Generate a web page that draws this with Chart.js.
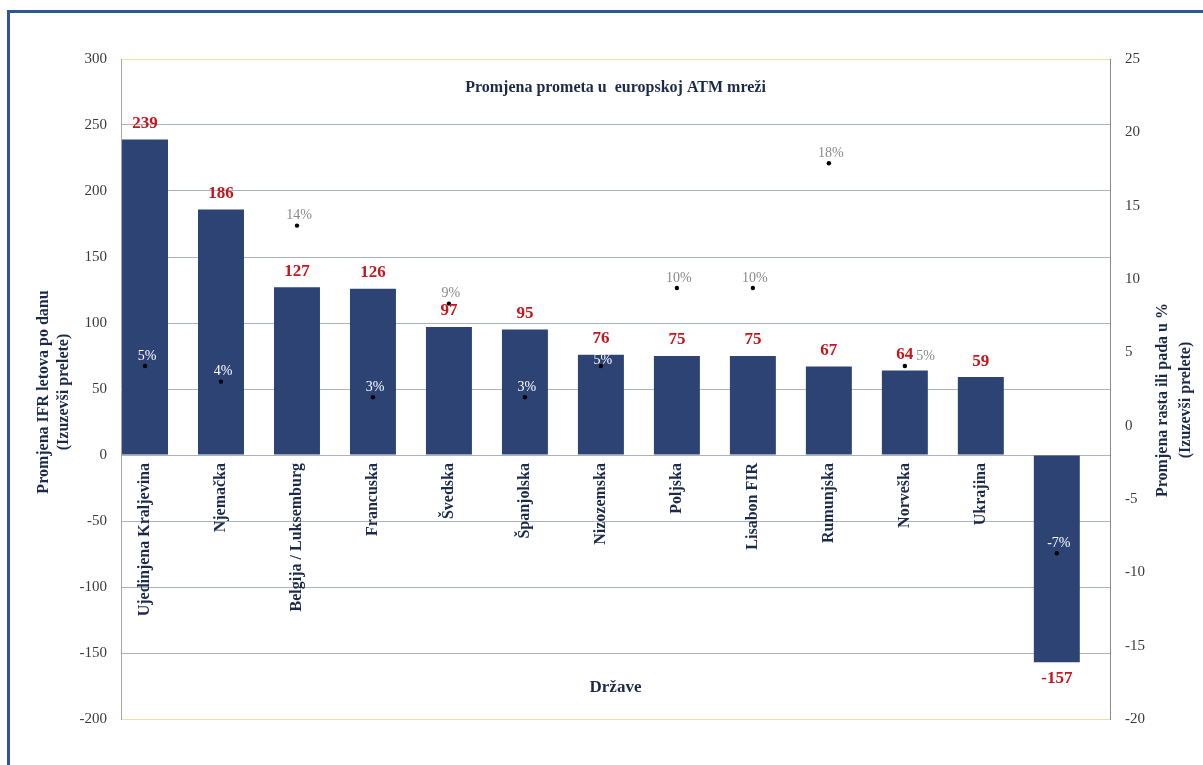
<!DOCTYPE html>
<html>
<head>
<meta charset="utf-8">
<script src="https://cdn.jsdelivr.net/npm/chart.js@4.4.1/dist/chart.umd.min.js"></script>
<style>
  body { margin: 0; background: #fff; }
  #wrap { position: relative; width: 1203px; height: 765px; overflow: hidden; }
  #frame { position: absolute; left: 7px; top: 10px; width: 1300px; height: 900px; border: 3px solid #2f5597; pointer-events: none; }
  canvas { position: absolute; left: 0; top: 0; }
</style>
</head>
<body>
<div id="wrap">
  <canvas id="chart" width="1203" height="765"></canvas>
  <div id="frame"></div>
</div>
<script>
// podaci
const drzave = ['Ujedinjena Kraljevina', 'Njemačka', 'Belgija / Luksemburg', 'Francuska', 'Švedska', 'Španjolska',
  'Nizozemska', 'Poljska', 'Lisabon FIR', 'Rumunjska', 'Norveška', 'Ukrajina', 'Turska'];
const promjenaLetova = [239, 186, 127, 126, 97, 95, 76, 75, 75, 67, 64, 59, -157];
const promjenaPosto = [5, 4, 14, 3, 9, 3, 5, 10, 10, 18, 5, null, -7];
const lijeveOznake = [-200, -150, -100, -50, 0, 50, 100, 150, 200, 250, 300];
const desneOznake = [-20, -15, -10, -5, 0, 5, 10, 15, 20, 25];

const naslov = 'Promjena prometa u  europskoj ATM mreži';
const serif = '"Liberation Serif", "Times New Roman", serif';
const navy = '#1c2a4a';

function drawRot(c, txt, x, y) {
    c.save();
    c.translate(x, y);
    c.rotate(-Math.PI / 2);
    c.fillText(txt, 0, 0);
    c.restore();
}

// natpisi: naslov, vrijednosti, postoci, naslovi osi
const oznakePlugin = {
    id: 'oznake',
    afterDatasetsDraw(chart) {
        const c = chart.ctx;
        const a = chart.chartArea;
        const bars = chart.getDatasetMeta(0).data;
        const dots = chart.getDatasetMeta(1).data;
        c.save();
        c.textAlign = 'center';
        c.textBaseline = 'middle';

        c.fillStyle = navy;
        c.font = 'bold 16px ' + serif;
        c.fillText(naslov, (a.left + a.right) / 2, 88);
        c.font = 'bold 17px ' + serif;
        c.fillText('Države', (a.left + a.right) / 2, 688);

        // crvene vrijednosti iznad/ispod stupaca
        c.font = 'bold 17px ' + serif;
        c.fillStyle = '#c4161c';
        const boxes = [];
        bars.forEach((b, i) => {
            const v = promjenaLetova[i];
            const y = v >= 0 ? b.y - 16 : b.y + 16;
            const w = c.measureText(String(v)).width;
            c.fillText(String(v), b.x, y);
            boxes.push({ l: b.x - w / 2, r: b.x + w / 2, t: y - 6, b: y + 6 });
        });

        // postoci iznad tocaka
        c.font = '14px ' + serif;
        dots.forEach((p, i) => {
            const v = promjenaPosto[i];
            if (v === null) return;
            const txt = v + '%';
            const bar = bars[i];
            let y = p.y - 10;
            const top = Math.min(bar.y, bar.base);
            // natpis koji bi presjekao vrh stupca ide cijeli u stupac
            if (y >= top && y < top + 6) y = top + 6;
            const inside = y > top && y < Math.max(bar.y, bar.base);
            c.fillStyle = inside ? '#ffffff' : '#8a8a8a';
            const w = c.measureText(txt).width;
            let x = p.x + 2;
            const bx = boxes[i];
            if (x - w / 2 < bx.r && x + w / 2 > bx.l && y - 5 < bx.b && y + 5 > bx.t) {
                x = bx.r + 3 + w / 2;
            }
            c.fillText(txt, x, y);
        });

        // naslovi osi
        c.fillStyle = navy;
        c.font = 'bold 16px ' + serif;
        drawRot(c, 'Promjena IFR letova po danu', 44, 392);
        drawRot(c, '(Izuzevši prelete)', 64, 392);
        drawRot(c, 'Promjena rasta ili pada u %', 1163, 400);
        drawRot(c, '(Izuzevši prelete)', 1186, 400);
        c.restore();
    }
};

const ctx = document.getElementById('chart').getContext('2d');
const chart = new Chart(ctx, {
    type: 'bar',
    data: {
        datasets: [
            {
                type: 'bar',
                label: 'Promjena IFR letova',
                data: promjenaLetova.map((v, i) => ({ x: i, y: v })),
                backgroundColor: '#2c4374',
                yAxisID: 'y',
                barPercentage: 0.605,
                categoryPercentage: 1,
                order: 2
            },
            {
                type: 'line',
                label: 'Promjena u %',
                data: promjenaPosto.map((v, i) => ({ x: i, y: v })),
                yAxisID: 'pct',
                showLine: false,
                pointRadius: 2.2,
                pointBackgroundColor: '#000',
                pointBorderWidth: 0,
                order: 1
            }
        ]
    },
    options: {
        responsive: false,
        animation: false,
        layout: { padding: { top: 59, bottom: 46, left: 0, right: 0 } },
        plugins: { legend: { display: false }, tooltip: { enabled: false } },
        scales: {
            x: {
                type: 'linear',
                position: { y: 0 },
                bounds: 'data',
                offset: false,
                min: -0.316,
                max: 12.70,
                z: 1,
                grid: { display: false, drawTicks: false },
                border: { display: false },
                afterBuildTicks: s => { s.ticks = drzave.map((_, i) => ({ value: i })); },
                afterFit: s => { s.height = 0; },
                ticks: {
                    minRotation: 90,
                    maxRotation: 90,
                    autoSkip: false,
                    padding: 8,
                    font: { family: serif, size: 16, weight: 'bold' },
                    color: c => c.index === 12 ? '#34508c' : navy,
                    callback: v => drzave[v]
                }
            },
            y: {
                position: 'left',
                min: -200,
                max: 300,
                afterBuildTicks: s => { s.ticks = lijeveOznake.map(v => ({ value: v })); },
                afterFit: s => { s.width = 121; },
                grid: {
                    drawTicks: false,
                    color: c => (c.tick && (c.tick.value === 300 || c.tick.value === -200)) ? '#ebe39c' : '#aab3c2'
                },
                border: { display: true, color: '#a6a6a6' },
                ticks: { padding: 14, font: { family: serif, size: 15 }, color: '#3a3a3a' }
            },
            y1: {
                position: 'right',
                min: -20,
                max: 25,
                afterBuildTicks: s => { s.ticks = desneOznake.map(v => ({ value: v })); },
                afterFit: s => { s.width = 93; },
                grid: { display: false, drawTicks: false },
                border: { display: true, color: '#8a8a8a' },
                ticks: { padding: 15, font: { family: serif, size: 15 }, color: '#3a3a3a' }
            },
            pct: {
                display: false,
                min: -17.63,
                max: 24.68
            }
        }
    },
    plugins: [oznakePlugin]
});
</script>
</body>
</html>
